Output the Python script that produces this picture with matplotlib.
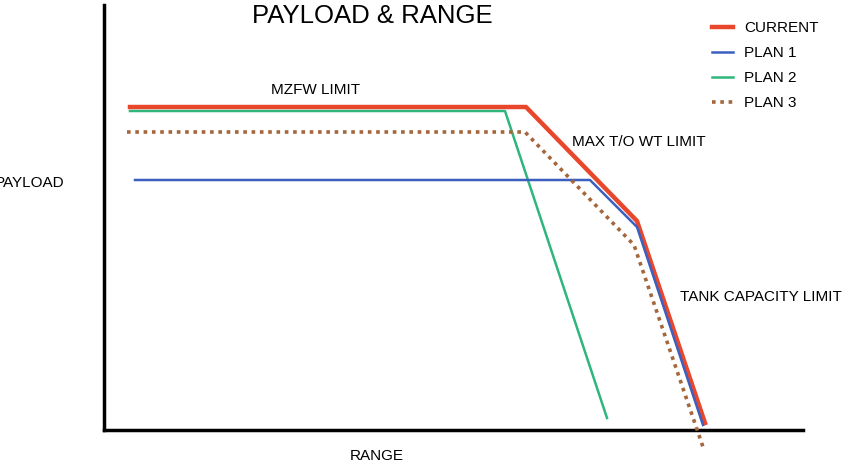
import matplotlib

matplotlib.use("Agg")
import matplotlib.pyplot as plt

plt.rcParams["font.family"] = ["Liberation Sans", "DejaVu Sans"]

# schematic payload-range curves (arbitrary units)
current_x = [26, 422, 533, 601]
current_y = [323, 323, 209, 7]
plan1_x = [31, 486, 533, 599]
plan1_y = [250, 250, 203, 5]
plan2_x = [26, 401, 503]
plan2_y = [319, 319, 12]
plan3_x = [23, 421, 530, 599]
plan3_y = [298, 298, 185, -17]

W, H = 862, 471
fig = plt.figure(figsize=(W / 100, H / 100), dpi=100)
ax = fig.add_axes([104 / W, (H - 430) / H, (803 - 104) / W, (430 - 5) / H])
ax.set_xlim(0, 699)
ax.set_ylim(0, 425)

ax.plot(current_x, current_y, color="#e8472b", lw=3.2, label="CURRENT",
        solid_joinstyle="miter", zorder=3)
ax.plot(plan1_x, plan1_y, color="#3c5fc0", lw=1.8, label="PLAN 1", zorder=4)
ax.plot(plan2_x, plan2_y, color="#2fb67c", lw=1.8, label="PLAN 2", zorder=2)
ax.plot(plan3_x, plan3_y, color="#a5663c", lw=2.6, ls=(0, (1, 1.3)),
        label="PLAN 3", clip_on=False, zorder=5)

for side in ("top", "right"):
    ax.spines[side].set_visible(False)
for side in ("left", "bottom"):
    ax.spines[side].set_linewidth(2.5)
ax.set_xticks([])
ax.set_yticks([])

fs = 11
ax.text(212, 340, "MZFW LIMIT", fontsize=fs, ha="center", va="center")
ax.text(468, 288, "MAX T/O WT LIMIT", fontsize=fs, ha="left", va="center")
ax.text(576, 133, "TANK CAPACITY LIMIT", fontsize=fs, ha="left", va="center")

fig.text(372 / W, 1 - 16 / H, "PAYLOAD & RANGE", fontsize=18.5,
         ha="center", va="center")
# the y label runs off the left edge in the original
fig.text(64 / W, 1 - 183 / H, "PAYLOAD", fontsize=fs, ha="right", va="center")
fig.text(377 / W, 1 - 456 / H, "RANGE", fontsize=fs, ha="center", va="center")

leg = ax.legend(loc="upper left",
                bbox_to_anchor=((712 - 104) / 699, (430 - 21) / 425),
                frameon=False, fontsize=fs, handlelength=1.35,
                handletextpad=0.75, labelspacing=0.72,
                borderpad=0, borderaxespad=0)

fig.savefig("out.png", dpi=100)
